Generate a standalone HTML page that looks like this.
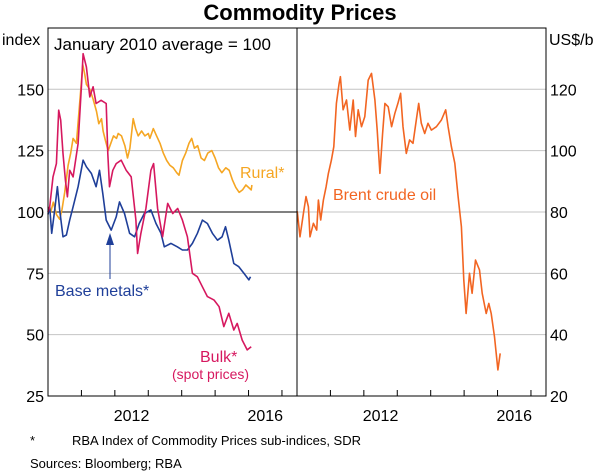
<!DOCTYPE html>
<html><head><meta charset="utf-8"><style>
body{margin:0;background:#fff;}
svg{display:block;font-family:"Liberation Sans",sans-serif;}
</style></head><body>
<svg id="c" width="600" height="474" viewBox="0 0 600 474">
<text x="300" y="20" text-anchor="middle" font-size="22" font-weight="bold">Commodity Prices</text>
<g id="grid"></g>
<g id="series"></g>
<g id="frame"></g>
<g id="labels"></g>
<text x="2" y="45" font-size="16">index</text>
<text x="549" y="45" font-size="16">US$/b</text>
<text x="54" y="50" font-size="17">January 2010 average = 100</text>
<text x="240" y="178" font-size="16" fill="#F5A623">Rural*</text>
<text x="55" y="296" font-size="16" fill="#1F3F99">Base metals*</text>
<line x1="110" y1="279" x2="110" y2="240" stroke="#1F3F99" stroke-width="1"/>
<polygon points="110,233 106,245 114,245" fill="#1F3F99"/>
<text x="200" y="362" font-size="16" fill="#D6185F">Bulk*</text>
<text x="172" y="379" font-size="14" fill="#D6185F">(spot prices)</text>
<text x="333" y="200" font-size="16" fill="#F26522">Brent crude oil</text>
<text x="30" y="445" font-size="13">*</text>
<text x="72" y="445" font-size="13">RBA Index of Commodity Prices sub-indices, SDR</text>
<text x="30" y="468" font-size="13">Sources:   Bloomberg; RBA</text>
</svg>
<script>
const leftTicks=[25,50,75,100,125,150];
const rightTicks=[20,40,60,80,100,120];
const yearLabels=["2012","2016"];
const ruralT=[2010.0,2010.08,2010.16,2010.25,2010.35,2010.42,2010.5,2010.6,2010.68,2010.75,2010.85,2010.95,2011.04,2011.1,2011.15,2011.25,2011.35,2011.45,2011.52,2011.6,2011.65,2011.72,2011.8,2011.88,2011.96,2012.05,2012.1,2012.2,2012.3,2012.38,2012.45,2012.55,2012.62,2012.7,2012.8,2012.9,2013.0,2013.05,2013.15,2013.25,2013.35,2013.45,2013.55,2013.65,2013.75,2013.85,2013.92,2014.02,2014.12,2014.22,2014.3,2014.38,2014.48,2014.58,2014.68,2014.78,2014.9,2015.0,2015.1,2015.2,2015.32,2015.42,2015.52,2015.62,2015.72,2015.82,2015.92,2016.0,2016.08,2016.1];
const ruralV=[102,100,104,99,97,101,108,119,124,130,128,145,160,156,152,150,146,141,136,138,133,129,125,128,131,130,132,131,127,122,126,138,134,131,133,131,132,130,134,131,128,124,121,119,118,116,115,121,124,128,130,126,127,122,121,124,125,122,118,116,118,117,113,110,108,109,111,110,109,111];
const baseT=[2010.0,2010.05,2010.11,2010.2,2010.28,2010.35,2010.45,2010.55,2010.65,2010.75,2010.9,2011.05,2011.15,2011.3,2011.44,2011.54,2011.64,2011.74,2011.89,2012.04,2012.14,2012.29,2012.44,2012.59,2012.73,2012.88,2013.08,2013.23,2013.38,2013.48,2013.68,2013.87,2014.02,2014.17,2014.32,2014.47,2014.62,2014.77,2014.92,2015.07,2015.21,2015.31,2015.41,2015.56,2015.71,2015.86,2016.01,2016.06];
const baseV=[99,102.1,91.3,100.8,110.3,100.8,89.9,90.6,96.7,102.1,110.3,121.1,118.4,115.7,110.3,117.0,107.5,96.7,92.6,98.0,104.1,99.4,91.3,89.9,95.3,99.4,100.8,95.3,91.3,85.8,87.2,85.8,84.5,84.5,87.2,91.3,96.7,95.3,91.3,88.5,89.9,94.0,88.5,79.0,77.7,75.0,72.3,73.6];
const bulkT=[2010.0,2010.05,2010.15,2010.25,2010.32,2010.38,2010.45,2010.52,2010.58,2010.65,2010.75,2010.9,2011.0,2011.05,2011.15,2011.25,2011.35,2011.44,2011.59,2011.74,2011.79,2011.84,2011.94,2012.04,2012.19,2012.34,2012.49,2012.63,2012.68,2012.78,2012.93,2013.08,2013.16,2013.28,2013.43,2013.58,2013.73,2013.88,2014.02,2014.17,2014.32,2014.47,2014.62,2014.77,2014.97,2015.12,2015.26,2015.41,2015.56,2015.66,2015.81,2015.96,2016.08];
const bulkV=[100,102.1,114.3,119.7,141.5,137.4,123.8,113,106.2,117,114.3,127.9,151,164.5,159.1,146.9,151,144.2,145.5,144.2,123.8,110.3,117,119.7,121.1,117,114.3,96.7,83.1,91.3,101.4,117,119.7,101.4,89.9,103.5,99.4,101.4,96.7,89.9,75,73.6,69.5,65.5,64.1,61.4,53.3,58.7,51.9,54.6,47.8,43.8,45.1];
const oilT=[2009.99,2010.01,2010.09,2010.19,2010.27,2010.34,2010.39,2010.49,2010.59,2010.64,2010.71,2010.79,2010.87,2010.94,2011.03,2011.1,2011.18,2011.26,2011.3,2011.38,2011.48,2011.58,2011.68,2011.75,2011.83,2011.93,2012.03,2012.13,2012.23,2012.33,2012.4,2012.48,2012.56,2012.63,2012.73,2012.83,2012.93,2013.02,2013.1,2013.17,2013.27,2013.37,2013.47,2013.57,2013.64,2013.72,2013.82,2013.92,2014.02,2014.17,2014.32,2014.45,2014.52,2014.62,2014.72,2014.82,2014.92,2014.99,2015.06,2015.16,2015.24,2015.34,2015.46,2015.54,2015.66,2015.74,2015.81,2015.91,2016.01,2016.08];
const oilV=[80,80.1,71.9,79.5,85,81.7,71.9,76.3,74.1,83.9,77.4,83.9,88.2,92.6,96.9,101.3,115.4,121.9,124.1,113.3,116.5,106.7,116.5,104.6,113.3,107.8,111.1,123,125.2,116.5,106.7,92.6,105.6,115.4,114.3,107.8,112.2,115.4,118.7,107.8,99.1,103.5,102.4,110,115.4,108.9,105.6,108.9,106.7,107.8,110,113.3,107.8,101.3,95.9,85,75.2,57.8,46.9,60,53.5,64.3,61.1,53.5,46.9,50.2,46.9,39.3,28.5,33.9];

const NS="http://www.w3.org/2000/svg";
const X0=48,XM=297,X1=546,YT=28,YB=396,T0=2010.0,T1=2017.45;
const xL=t=>X0+(t-T0)/(T1-T0)*(XM-X0);
const xR=t=>XM+(t-T0)/(T1-T0)*(X1-XM);
function yl(v){return YB-(v-25)*(YB-89.3)/125;}
function yr(v){return YB-(v-20)*(YB-89.3)/100;}
function mk(tag,attrs,parent){const e=document.createElementNS(NS,tag);for(const k in attrs)e.setAttribute(k,attrs[k]);parent.appendChild(e);return e;}
const grid=document.getElementById('grid'),frame=document.getElementById('frame'),labels=document.getElementById('labels'),series=document.getElementById('series');
leftTicks.forEach(v=>{
  const y=yl(v);
  if(v>25){const l=mk('line',{x1:X0,x2:XM,y1:y,y2:y,stroke:v===100?'#000':'#c4c4c4','stroke-width':1},grid);
  
  }
  const t=mk('text',{x:44,y:y+6,'text-anchor':'end','font-size':16},labels);t.textContent=v;
  
  
});
rightTicks.forEach(v=>{
  const y=yr(v);
  if(v>20){const l=mk('line',{x1:XM,x2:X1,y1:y,y2:y,stroke:'#c4c4c4','stroke-width':1},grid);
  
  }
  const t=mk('text',{x:550,y:y+6,'font-size':16},labels);t.textContent=v;
  
  
});
for(let yr0=2011;yr0<=2017;yr0++){
  [xL(yr0),xR(yr0)].forEach(x=>{const l=mk('line',{x1:x,x2:x,y1:YB,y2:YB-6,stroke:'#000'},frame);
  
  });
}
yearLabels.forEach(s=>{const yv=+s;[xL,xR].forEach(f=>{const t=mk('text',{x:f(yv+0.5),y:421,'text-anchor':'middle','font-size':16},labels);t.textContent=s;
  
  });});
const fr=mk('rect',{x:X0,y:YT,width:X1-X0,height:YB-YT,fill:'none',stroke:'#000','stroke-width':1},frame);


const dv=mk('line',{x1:XM,x2:XM,y1:YT,y2:YB,stroke:'#000'},frame);


function line(T,V,fx,fy,col,name){
  const d=T.map((t,i)=>(i?'L':'M')+fx(t).toFixed(1)+','+fy(V[i]).toFixed(1)).join('');
  const p=mk('path',{d:d,fill:'none',stroke:col,'stroke-width':1.6,'stroke-linejoin':'round'},series);
  
  
}
line(ruralT,ruralV,xL,yl,'#F5A623','rural-line');
line(baseT,baseV,xL,yl,'#1F3F99','base-metals-line');
line(bulkT,bulkV,xL,yl,'#D6185F','bulk-line');
line(oilT,oilV,xR,yr,'#F26522','brent-oil-line');
</script>
</body></html>
